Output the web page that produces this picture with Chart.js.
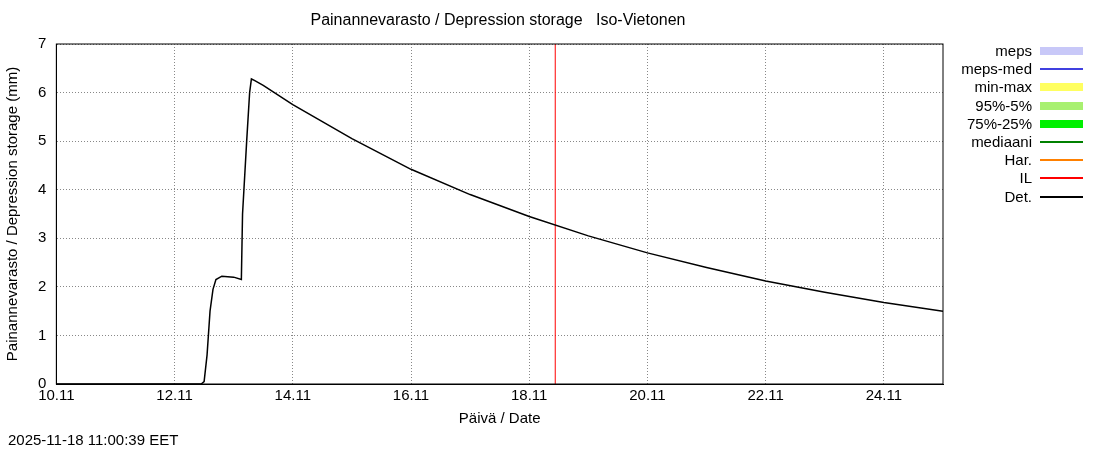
<!DOCTYPE html>
<html><head><meta charset="utf-8">
<script src="https://cdn.jsdelivr.net/npm/chart.js@4"></script>
<style>
body{margin:0;width:1100px;height:450px;background:#fff;font-family:"Liberation Sans",Arial,sans-serif;position:relative;overflow:hidden}
#wrap{position:absolute;left:0;top:0;width:1100px;height:450px}
#leg{position:absolute;left:940px;top:42px;font-size:15px;color:#000}
.r{height:18.2px;line-height:18.2px;text-align:right;width:92px;position:relative}
.s{position:absolute;left:100px;top:9px;width:43px}
#ts{position:absolute;left:8px;top:431px;font-size:15px}
#ttl{position:absolute;left:298px;width:400px;text-align:center;top:11px;font-size:16px}
</style></head><body>
<div id="wrap"><canvas id="c" width="1100" height="450"></canvas></div>
<div id="ttl">Painannevarasto / Depression storage&nbsp;&nbsp;&nbsp;Iso-Vietonen</div>
<div id="leg"></div>
<div id="ts">2025-11-18 11:00:39 EET</div>
<script>
const detDays = [0,2.45,2.5,2.55,2.6,2.65,2.7,2.8,3.0,3.13,3.15,3.22,3.27,3.3,3.35,3.5,4,5,6,7,8,9,10,11,12,13,14,15];
const detVals = [0,0,0.05,0.6,1.5,1.95,2.15,2.22,2.2,2.15,3.5,5.0,6.0,6.28,6.25,6.15,5.75,5.05,4.42,3.9,3.45,3.05,2.7,2.4,2.12,1.89,1.68,1.5];
const nowDay = 8.44;
const xTicks = ["10.11","12.11","14.11","16.11","18.11","20.11","22.11","24.11"];
const legendNames = ["meps","meps-med","min-max","95%-5%","75%-25%","mediaani","Har.","IL","Det."];
const legendColors = ["#c8c8f8","#4040e0","#ffff60","#a8f070","#00f000","#008000","#ff8000","#ff0000","#000000"];
const legendWidths = [8,2,8,8,8,2,2,2,2];

const leg=document.getElementById('leg');
legendNames.forEach((n,i)=>{const d=document.createElement('div');d.className='r';d.textContent=n;
const s=document.createElement('div');s.className='s';s.style.height=legendWidths[i]+'px';s.style.marginTop=(-legendWidths[i]/2)+'px';s.style.background=legendColors[i];d.appendChild(s);leg.appendChild(d);});

new Chart(document.getElementById('c'),{type:'scatter',
data:{datasets:[
{data:detDays.map((x,i)=>({x,y:detVals[i]})),showLine:true,borderColor:'#000',borderWidth:1.5,pointRadius:0,tension:0},
{data:[{x:nowDay,y:0},{x:nowDay,y:7}],showLine:true,borderColor:'#ff0000',borderWidth:1,pointRadius:0}
]},
options:{responsive:false,animation:false,
layout:{padding:{left:0,right:157,top:44,bottom:18}},
plugins:{legend:{display:false},tooltip:{enabled:false}},
scales:{
x:{type:'linear',min:0,max:15,border:{color:'#000',dash:[1,2]},
ticks:{stepSize:2,color:'#000',font:{size:15,family:'Liberation Sans'},callback:(v)=>xTicks[v/2]},
grid:{color:'#888',tickLength:0,lineWidth:1},
title:{display:true,text:'Päivä / Date',color:'#000',font:{size:15,family:'Liberation Sans'},padding:{top:2}}},
y:{min:0,max:7,border:{color:'#000',dash:[1,2]},
ticks:{stepSize:1,color:'#000',padding:10,font:{size:15,family:'Liberation Sans'}},
grid:{color:'#888',tickLength:0},
title:{display:true,text:'Painannevarasto / Depression storage (mm)',color:'#000',font:{size:15,family:'Liberation Sans'},padding:{bottom:6}}}
}},
plugins:[{id:'box',afterDraw(c){const a=c.chartArea,g=c.ctx;g.save();g.strokeStyle='#000';g.lineWidth=1;g.strokeRect(a.left,a.top,a.right-a.left,a.bottom-a.top);g.restore();}}]
});
</script></body></html>
